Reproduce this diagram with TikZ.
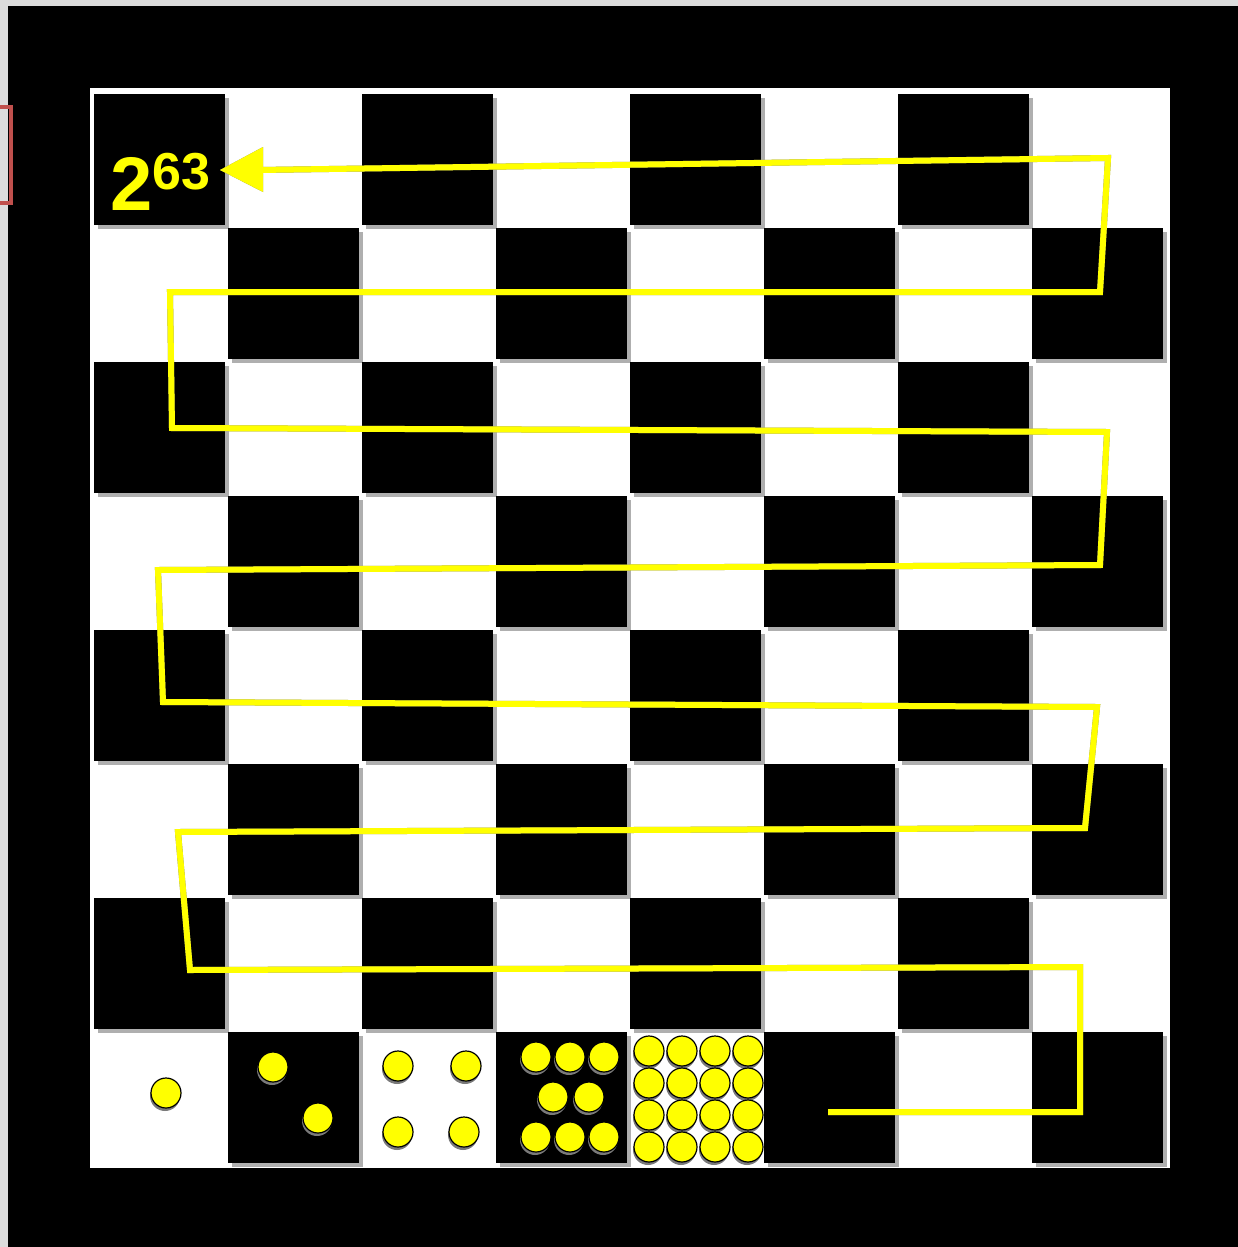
\documentclass[tikz,border=0pt]{standalone}
\usepackage{fontspec}
\setmainfont{Liberation Sans}
\definecolor{ylw}{HTML}{FFFF00}
\definecolor{shd}{HTML}{7A7A7A}
\definecolor{lgray}{HTML}{DCDCDC}
\definecolor{redb}{HTML}{C0504D}
\tikzset{
  blacksq/.style={fill=black},
  sqshadow/.style={fill=shd!60},
  coin/.style={circle,fill=ylw,draw=black,line width=1.2pt,minimum size=30pt,inner sep=0pt},
  coinshadow/.style={circle,fill=shd,minimum size=30pt,inner sep=0pt},
  pathline/.style={draw=ylw,line width=6pt,line join=miter},
  pathshadow/.style={draw=shd,line width=6pt,line join=miter}
}
\begin{document}
\begin{tikzpicture}[x=1pt,y=-1pt]
\useasboundingbox (0,0) rectangle (1238,1247);
% background and frame
\fill[lgray] (0,0) rectangle (1238,1247);
\fill[black] (8,6) rectangle (1238,1247);
\fill[white] (90,88) rectangle (1170,1168);
\draw[redb,line width=4pt] (0,107) -- (11,107) -- (11,203) -- (0,203);
% squares
\foreach \r in {0,...,7}{
  \foreach \c in {0,...,7}{
    \pgfmathtruncatemacro{\parity}{mod(\r+\c,2)}
    \ifnum\parity=0
      \fill[sqshadow] ({94+134*\c+4},{94+134*\r+4}) rectangle ++(131,131);
      \fill[blacksq] ({94+134*\c},{94+134*\r}) rectangle ++(131,131);
    \fi
  }
}
% path coordinates
\coordinate (p0) at (828,1112);
\coordinate (p1) at (1080,1112);
\coordinate (p2) at (1080,967);
\coordinate (p3) at (190,970);
\coordinate (p4) at (178,832);
\coordinate (p5) at (1085,828);
\coordinate (p6) at (1097,707);
\coordinate (p7) at (163,702);
\coordinate (p8) at (158,570);
\coordinate (p9) at (1100,565);
\coordinate (p10) at (1107,432);
\coordinate (p11) at (172,428);
\coordinate (p12) at (170,292);
\coordinate (p13) at (1100,292);
\coordinate (p14) at (1108,158);
\coordinate (p15) at (258,170);
\coordinate (tip) at (220,170);
\coordinate (bt) at (263,147);
\coordinate (bb) at (263,192);
% shadow
\begin{scope}[shift={(3,4)}]
\draw[pathshadow] (p0)--(p1)--(p2)--(p3)--(p4)--(p5)--(p6)--(p7)--(p8)--(p9)--(p10)--(p11)--(p12)--(p13)--(p14)--(p15);
\fill[shd] (tip)--(bt)--(bb)--cycle;
\end{scope}
\draw[pathline] (p0)--(p1)--(p2)--(p3)--(p4)--(p5)--(p6)--(p7)--(p8)--(p9)--(p10)--(p11)--(p12)--(p13)--(p14)--(p15);
\fill[ylw] (tip)--(bt)--(bb)--cycle;
% label
\node[anchor=base west,inner sep=0pt,text=ylw] (lbl) at (110,210)
  {\fontsize{76}{76}\selectfont\bfseries 2\raisebox{21pt}{\fontsize{52}{52}\selectfont 63}};
% coins
\foreach \x/\y [count=\i] in {
  166/1093,
  273/1067, 318/1118,
  398/1066, 466/1066, 398/1132, 464/1132,
  536/1057, 570/1057, 604/1057, 553/1097, 589/1097, 536/1137, 570/1137, 604/1137,
  649/1051, 682/1051, 715/1051, 748/1051,
  649/1083, 682/1083, 715/1083, 748/1083,
  649/1115, 682/1115, 715/1115, 748/1115,
  649/1147, 682/1147, 715/1147, 748/1147}{
  \node[coinshadow] at (\x-1,\y+3) {};
  \node[coin] (c\i) at (\x,\y) {};
}
\end{tikzpicture}
\end{document}
